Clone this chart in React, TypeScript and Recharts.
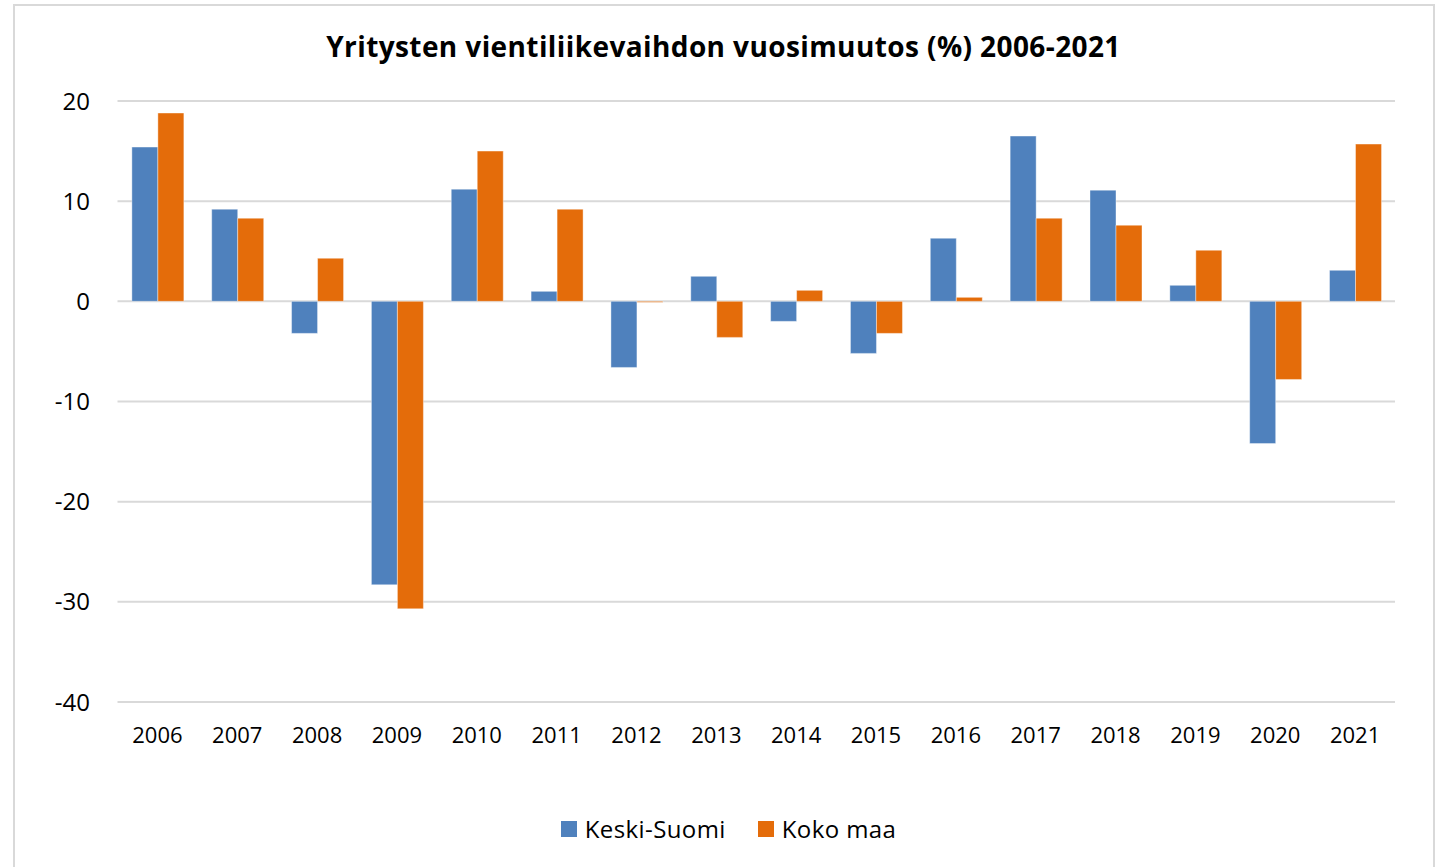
import React from 'react';
import { BarChart, Bar, XAxis, YAxis, CartesianGrid, Legend } from 'recharts';

const years = [
  '2006', '2007', '2008', '2009', '2010', '2011', '2012', '2013',
  '2014', '2015', '2016', '2017', '2018', '2019', '2020', '2021',
];
const keskiSuomi = [15.4, 9.2, -3.2, -28.3, 11.2, 1.0, -6.6, 2.5, -2.0, -5.2, 6.3, 16.5, 11.1, 1.6, -14.2, 3.1];
const kokoMaa = [18.8, 8.3, 4.3, -30.7, 15.0, 9.2, -0.1, -3.6, 1.1, -3.2, 0.4, 8.3, 7.6, 5.1, -7.8, 15.7];
const yTicks = [-40, -30, -20, -10, 0, 10, 20];

const title = 'Yritysten vientiliikevaihdon vuosimuutos (%) 2006-2021';
const FONT = '"Open Sans", "Noto Sans", sans-serif';

const data = years.map((year, i) => ({
  year,
  'Keski-Suomi': keskiSuomi[i],
  'Koko maa': kokoMaa[i],
}));

const renderLegend = (props: any) => {
  const { payload } = props;
  return (
    <div
      style={{
        display: 'flex',
        justifyContent: 'center',
        fontFamily: FONT,
        fontSize: 24,
        letterSpacing: 0.4,
        lineHeight: '32px',
        color: '#000',
      }}
    >
      {payload.map((entry: any, i: number) => (
        <div key={entry.value} style={{ display: 'flex', alignItems: 'center', marginLeft: i === 0 ? 0 : 32 }}>
          <span style={{ display: 'inline-block', width: 16, height: 16, background: entry.color, marginRight: 8 }} />
          <span>{entry.value}</span>
        </div>
      ))}
    </div>
  );
};

const App = () => {
  return (
    <div style={{ position: 'absolute', left: 0, top: 0, width: 1440, height: 867, background: '#fff', overflow: 'hidden' }}>
      {/* chart frame */}
      <div
        style={{
          position: 'absolute',
          left: 13,
          top: 4,
          width: 1418,
          height: 900,
          border: '2px solid #d9d9d9',
        }}
      />
      <div
        style={{
          position: 'absolute',
          left: 14,
          width: 1419,
          top: 27,
          textAlign: 'center',
          fontFamily: FONT,
          fontWeight: 700,
          fontSize: 28,
          letterSpacing: 0.4,
          lineHeight: '38px',
          color: '#000',
        }}
      >
        {title}
      </div>
      <div style={{ position: 'absolute', left: 0, top: 0 }}>
        <BarChart
          width={1440}
          height={867}
          data={data}
          margin={{ top: 101, right: 45, bottom: 105, left: 0 }}
          barCategoryGap="18%"
          barGap={0}
        >
          <CartesianGrid vertical={false} stroke="#d9d9d9" strokeWidth={2} />
          <XAxis
            dataKey="year"
            height={60}
            axisLine={false}
            tickLine={false}
            tickSize={0}
            tickMargin={25}
            interval={0}
            tick={{ fill: '#000', fontSize: 22, fontFamily: FONT }}
          />
          <YAxis
            width={117.5}
            domain={[-40, 20]}
            ticks={yTicks}
            axisLine={false}
            tickLine={false}
            tickSize={0}
            tickMargin={27.5}
            tick={{ fill: '#000', fontSize: 24, fontFamily: FONT }}
          />
          <Legend
            verticalAlign="middle"
            align="center"
            content={renderLegend}
            wrapperStyle={{ top: 813, left: 19, width: 1419, height: 32 }}
          />
          <Bar dataKey="Keski-Suomi" fill="#4f81bd" stroke="#ffffff" strokeOpacity={0.4} isAnimationActive={false} />
          <Bar dataKey="Koko maa" fill="#e46c0a" stroke="#ffffff" strokeOpacity={0.4} isAnimationActive={false} />
        </BarChart>
      </div>
    </div>
  );
};

export default App;
